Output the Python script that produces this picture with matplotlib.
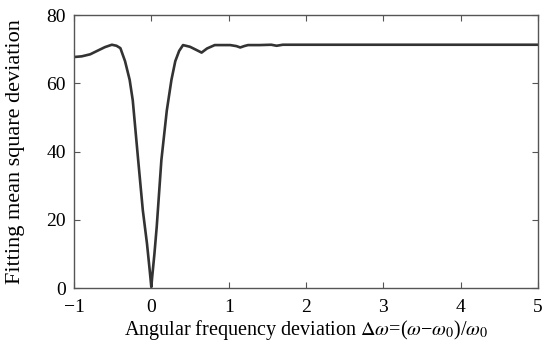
import matplotlib
matplotlib.use("Agg")
import matplotlib.pyplot as plt

plt.rcParams['font.family'] = ['Liberation Serif', 'DejaVu Serif']
plt.rcParams['mathtext.fontset'] = 'stix'

# curve values
dw = [-1.0, -0.9, -0.79, -0.7, -0.6, -0.51, -0.45, -0.4, -0.34, -0.28, -0.24,
      -0.17, -0.11, -0.056, -0.02, 0.0, 0.01, 0.04, 0.07, 0.13, 0.2, 0.26,
      0.31, 0.36, 0.41, 0.5, 0.58, 0.65, 0.72, 0.82, 0.92, 1.02, 1.1, 1.15,
      1.2, 1.25, 1.4, 1.55, 1.62, 1.7, 2.0, 3.0, 4.0, 5.0]
msd = [67.7, 67.9, 68.5, 69.5, 70.6, 71.3, 71.0, 70.3, 66.5, 61.0, 55.0,
       37.5, 22.8, 13.0, 5.0, 0.3, 3.0, 10.0, 18.0, 37.5, 52.0, 61.0,
       66.5, 69.5, 71.2, 70.7, 69.8, 69.0, 70.2, 71.2, 71.2, 71.2, 70.9, 70.5,
       70.9, 71.2, 71.2, 71.3, 71.0, 71.3, 71.3, 71.3, 71.3, 71.3]

fig = plt.figure(figsize=(5.44, 3.5), dpi=100)
ax = fig.add_axes([0.136, 0.177, 0.853, 0.78])

ax.plot(dw, msd, color='#333333', lw=1.9)

ax.set_xlim(-1, 5)
ax.set_ylim(0, 80)
ax.set_xticks([-1, 0, 1, 2, 3, 4, 5])
ax.set_xticklabels(['\u22121', '0', '1', '2', '3', '4', '5'])
ax.set_yticks([0, 20, 40, 60, 80])

for s in ax.spines.values():
    s.set_color('#555555')
    s.set_linewidth(1.0)
ax.tick_params(direction='in', top=True, right=True, length=4,
               color='#555555', labelsize=14)
ax.tick_params(axis='x', pad=8)
ax.tick_params(axis='y', pad=6)

xl = r'Angular frequency deviation $\Delta\omega$=($\omega$' + '\u2212' + r'$\omega_0$)/$\omega_0$'
ax.set_xlabel(xl, fontsize=14.5, labelpad=1)
ax.set_ylabel('Fitting mean square deviation', fontsize=16)
ax.yaxis.set_label_coords(-0.105, 0.5)

fig.savefig('out.png', dpi=100)
